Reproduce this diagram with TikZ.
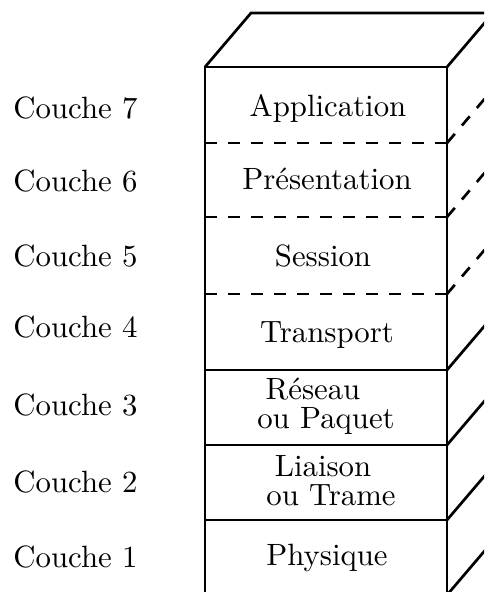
\documentclass[tikz,border=0pt]{standalone}
\usepackage{fontspec}
\setmainfont{lmroman10-regular}[Extension=.otf]
\begin{document}
\begin{tikzpicture}[x=0.5pt,y=-0.5pt,
  edge/.style={line width=1.35pt, line join=miter},
  dashedge/.style={edge, dash pattern=on 6pt off 5.5pt},
  lbl/.style={inner sep=0pt, anchor=base west, font=\fontsize{15.4}{18}\selectfont},
  lyr/.style={inner sep=0pt, anchor=base, font=\fontsize{15.4}{18}\selectfont},
  lyrtwo/.style={lyr, align=center, font=\fontsize{15.4}{14.3}\selectfont}]
\useasboundingbox (0,0) rectangle (484,592);
\clip (0,0) rectangle (484,592);
% layer boundaries
\foreach \i/\y in {0/67,1/143,2/217,3/294,4/370,5/445,6/520,7/595}{
  \coordinate (b\i) at (205,\y);
  \coordinate (r\i) at (447,\y);
  \coordinate (k\i) at (493,\y-54);
}
\coordinate (t0) at (251,13);
% front and top faces
\draw[edge] (b7) -- (b0) -- (r0) -- (r7);
\draw[edge] (b0) -- (t0) -- (k0) -- (r0);
% solid separators
\foreach \i in {4,5,6}{ \draw[edge] (b\i) -- (r\i); }
\foreach \i in {4,5,6,7}{ \draw[edge] (r\i) -- (k\i); }
% dashed separators
\foreach \i in {1,2,3}{
  \draw[dashedge] (b\i) -- (r\i);
  \draw[dashedge] (r\i) -- (k\i);
}
% left labels
\node[lbl] (c7) at (13,119) {Couche 7};
\node[lbl] (c6) at (13,192) {Couche 6};
\node[lbl] (c5) at (13,267) {Couche 5};
\node[lbl] (c4) at (13,337) {Couche 4};
\node[lbl] (c3) at (13,415) {Couche 3};
\node[lbl] (c2) at (13,492) {Couche 2};
\node[lbl] (c1) at (13,567) {Couche 1};
% layer names
\node[lyr] (l7) at (328,117) {Application};
\node[lyr] (l6) at (327,190) {Présentation};
\node[lyr] (l5) at (323,267) {Session};
\node[lyr] (l4) at (327,342) {Transport};
\node[lyrtwo] (l3) at (326,428) {Réseau\hspace*{13pt}\\ou Paquet};
\node[lyrtwo] (l2) at (326,505) {Liaison\hspace*{3pt}\\\hspace*{5pt}ou Trame};
\node[lyr] (l1) at (327,565) {Physique};
\end{tikzpicture}
\end{document}
